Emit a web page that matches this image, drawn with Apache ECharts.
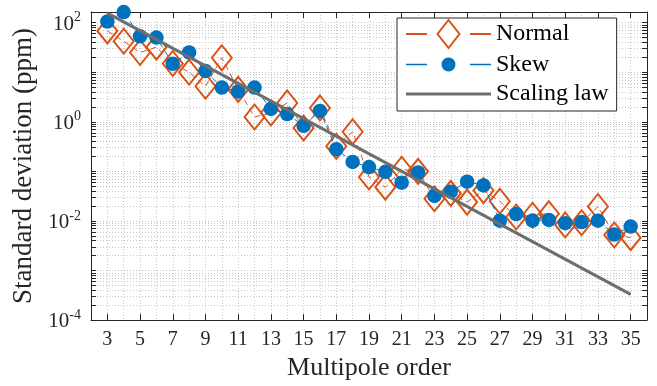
<!DOCTYPE html>
<html>
<head>
<meta charset="utf-8">
<script src="https://cdn.jsdelivr.net/npm/echarts@6/dist/echarts.min.js"></script>
<style>
html,body{margin:0;padding:0;background:#fff;}
#chart{width:657px;height:386px;}
</style>
</head>
<body>
<div id="chart"></div>
<script>
// ---- data ----
var orders = [3,4,5,6,7,8,9,10,11,12,13,14,15,16,17,18,19,20,21,22,23,24,25,26,27,28,29,30,31,32,33,34,35];
var normalValues = [68,42,25,32,15,10,5.2,19.5,4.5,1.25,1.5,2.4,0.75,1.9,0.32,0.63,0.077,0.048,0.11,0.1,0.028,0.036,0.024,0.041,0.025,0.012,0.013,0.014,0.0083,0.0092,0.0195,0.0052,0.0046];
var skewValues = [105,163,53,50,14.8,25,10.6,4.9,4.1,4.9,1.82,1.43,0.83,1.65,0.28,0.155,0.122,0.098,0.059,0.095,0.032,0.039,0.062,0.052,0.0101,0.0138,0.0102,0.0105,0.009,0.0095,0.0101,0.0053,0.0077];
var lawOrders = [3,35];
var lawValues = [155,0.00033];
var xTickLabels = [3,5,7,9,11,13,15,17,19,21,23,25,27,29,31,33,35];
var yTickLabels = [1e-4,1e-2,1,1e2];
var seriesNames = ['Normal','Skew','Scaling law'];

var X_MIN = 2, X_MAX = 36;
var Y_MIN = 1e-4, Y_MAX = Math.pow(10, 2.214);

function pairs(xs, ys){ return xs.map(function(x,i){ return [x, ys[i]]; }); }

// log-scale tick positions (1..9 x 10^e)
var yTickValues = [];
for (var e = -4; e <= 2; e++) {
  for (var k = 1; k <= 9; k++) {
    var v = k * Math.pow(10, e);
    if (v >= Y_MIN * 0.999 && v <= Y_MAX) yTickValues.push(v);
  }
}

var AX = '#262626';
var FONT = 'Liberation Serif';
var gridLine = {show:true, lineStyle:{color:'#c8c8c8', width:1, type:[1,2]}};

function yLabel(val){
  var ex = Math.round(Math.log(val)/Math.LN10);
  return '{b|10}{s|' + ex + '}';
}
var yRich = {
  b:{fontFamily:FONT, fontSize:21, color:AX, lineHeight:24, verticalAlign:'bottom'},
  s:{fontFamily:FONT, fontSize:14, color:AX, lineHeight:24, verticalAlign:'top'}
};

var chart = echarts.init(document.getElementById('chart'), null, {renderer:'canvas'});
chart.setOption({
  animation:false,
  backgroundColor:'#fff',
  grid:{left:91, right:10, top:12, bottom:63, containLabel:false},
  legend:{
    orient:'vertical', left:397, top:18,
    padding:[1,8,3,8],
    backgroundColor:'#fff', borderColor:AX, borderWidth:1,
    itemWidth:85, itemHeight:28, itemGap:1.5,
    symbolKeepAspect:false,
    textStyle:{fontFamily:FONT, fontSize:24, color:'#000'},
    data:[
      {name:seriesNames[0], icon:'path://M0 14 L21 14 M64 14 L85 14 M42.5 0 L53.5 14 L42.5 28 L31.5 14 Z', itemStyle:{borderWidth:2}},
      {name:seriesNames[1], icon:'path://M0 0 L0 0 M85 28 L85 28 M0 13.3 L21 13.3 L21 14.7 L0 14.7 Z M64 13.3 L85 13.3 L85 14.7 L64 14.7 Z M35.5 14 A7 7 0 1 0 49.5 14 A7 7 0 1 0 35.5 14 Z'},
      {name:seriesNames[2], icon:'path://M0 0 L0 0 M85 28 L85 28 M0 12.5 L85 12.5 L85 15.5 L0 15.5 Z'}
    ]
  },
  xAxis:[
    {type:'value', min:X_MIN, max:X_MAX, interval:1, position:'bottom',
     name:'Multipole order', nameLocation:'middle', nameGap:32,
     nameTextStyle:{fontFamily:FONT, fontSize:26, color:AX},
     axisLine:{show:true, onZero:false, lineStyle:{color:AX, width:1}},
     axisTick:{show:true, inside:true, length:6, customValues:xTickLabels, lineStyle:{color:AX}},
     axisLabel:{show:true, customValues:xTickLabels, margin:10, fontFamily:FONT, fontSize:20, color:AX},
     splitLine:{show:false}},
    {type:'value', min:X_MIN, max:X_MAX, interval:1, position:'top',
     axisLine:{show:true, onZero:false, lineStyle:{color:AX, width:1}},
     axisTick:{show:true, inside:true, length:6, customValues:xTickLabels, lineStyle:{color:AX}},
     axisLabel:{show:false}, splitLine:{show:false}},
    {type:'value', min:X_MIN, max:X_MAX, interval:1, position:'bottom',
     axisLine:{show:false}, axisTick:{show:false}, axisLabel:{show:false},
     splitLine:gridLine}
  ],
  yAxis:[
    {type:'log', logBase:10, min:Y_MIN, max:Y_MAX, position:'left',
     name:'Standard deviation (ppm)', nameLocation:'middle', nameGap:54,
     nameTextStyle:{fontFamily:FONT, fontSize:27, color:AX},
     axisLine:{show:true, onZero:false, lineStyle:{color:AX, width:1}},
     axisTick:{show:true, inside:true, length:5, customValues:yTickValues, lineStyle:{color:AX}},
     axisLabel:{show:true, customValues:yTickLabels, margin:10, formatter:yLabel, rich:yRich},
     splitLine:gridLine},
    {type:'log', logBase:10, min:Y_MIN, max:Y_MAX, position:'right',
     axisLine:{show:true, onZero:false, lineStyle:{color:AX, width:1}},
     axisTick:{show:true, inside:true, length:5, customValues:yTickValues, lineStyle:{color:AX}},
     axisLabel:{show:false}, splitLine:{show:false}}
  ],
  series:[
    {name:seriesNames[0], type:'line', data:pairs(orders, normalValues),
     symbol:'diamond', symbolSize:[20,25], clip:false,
     lineStyle:{color:'#D95319', width:1, type:[6,4]},
     itemStyle:{color:'rgba(0,0,0,0)', borderColor:'#D95319', borderWidth:2},
     z:3},
    {name:seriesNames[1], type:'line', data:pairs(orders, skewValues),
     symbol:'circle', symbolSize:14.5, clip:false,
     lineStyle:{color:'#0072BD', width:1, type:[6,4]},
     itemStyle:{color:'#0072BD', borderWidth:0},
     z:4},
    {name:seriesNames[2], type:'line', data:pairs(lawOrders, lawValues),
     symbol:'none', showSymbol:false,
     lineStyle:{color:'#6e6e6e', width:3},
     itemStyle:{color:'#6e6e6e'},
     z:5}
  ]
});
</script>
</body>
</html>
